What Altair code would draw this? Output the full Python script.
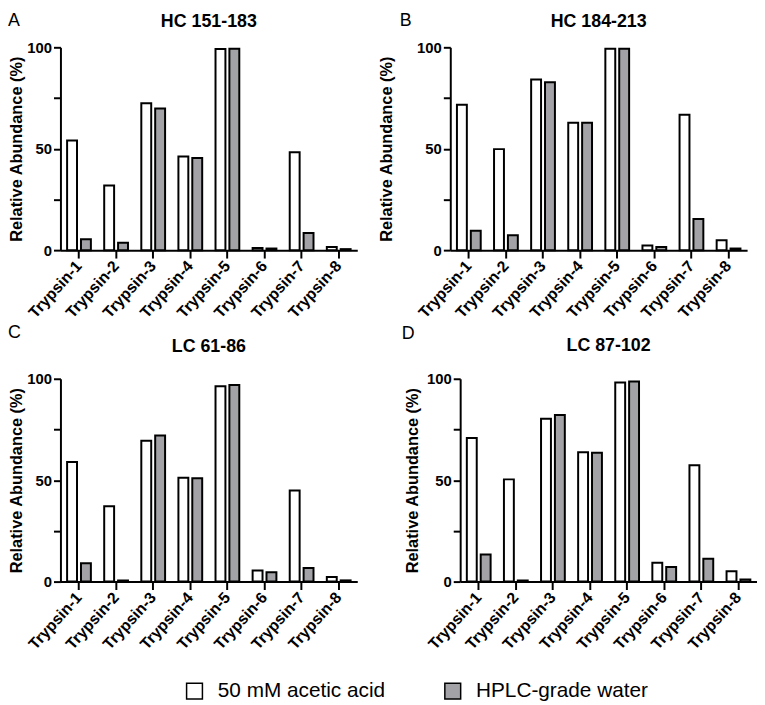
import altair as alt
import pandas as pd

FONT = "Liberation Sans"

categories = ["Trypsin-1", "Trypsin-2", "Trypsin-3", "Trypsin-4",
              "Trypsin-5", "Trypsin-6", "Trypsin-7", "Trypsin-8"]
conditions = ["50 mM acetic acid", "HPLC-grade water"]
panel_titles = ["HC 151-183", "HC 184-213", "LC 61-86", "LC 87-102"]
panel_letters = ["A", "B", "C", "D"]

hc151_acetic = [54.0, 31.9, 72.4, 46.2, 99.2, 1.1, 48.3, 1.6]
hc151_water = [5.4, 3.7, 69.8, 45.4, 99.3, 0.8, 8.5, 0.5]
hc184_acetic = [71.7, 49.8, 84.1, 62.8, 99.3, 2.3, 66.7, 4.9]
hc184_water = [9.6, 7.3, 82.8, 62.8, 99.3, 1.6, 15.3, 0.8]
lc61_acetic = [59.0, 37.1, 69.4, 51.2, 96.3, 5.5, 44.9, 2.3]
lc61_water = [9.1, 0.6, 72.0, 50.9, 96.9, 4.6, 6.7, 0.6]
lc87_acetic = [70.8, 50.4, 80.3, 63.8, 98.2, 9.3, 57.4, 5.1]
lc87_water = [13.4, 0.6, 82.1, 63.5, 98.7, 7.2, 11.3, 1.1]

legend = alt.Legend(
    title=None, orient="none", legendX=125, legendY=640, direction="horizontal",
    symbolType="square", symbolSize=256, symbolStrokeColor="black",
    symbolStrokeWidth=1.5, labelFontSize=21, labelFont=FONT, labelColor="black",
    columnPadding=56, labelOffset=13, labelLimit=400,
)


def panel(title, letter, acetic, water, title_pad, letter_dx, letter_dy, title_dy):
    df = pd.DataFrame({
        "cat": categories * 2,
        "cond": [conditions[0]] * len(categories) + [conditions[1]] * len(categories),
        "value": acetic + water,
    })
    bars = alt.Chart(df).mark_bar(stroke="black", strokeWidth=2).encode(
        x=alt.X("cat:N", sort=categories, title=None,
                scale=alt.Scale(paddingInner=0, paddingOuter=0),
                axis=alt.Axis(labelAngle=-48, labelAlign="right", labelBaseline="middle",
                              labelFont=FONT, labelFontSize=16, labelFontWeight="bold",
                              labelColor="black", tickSize=8, tickWidth=2, tickColor="black",
                              domainColor="black", domainWidth=2, labelPadding=5)),
        xOffset=alt.XOffset("cond:N", sort=conditions,
                            scale=alt.Scale(paddingInner=0.286, paddingOuter=0.48)),
        y=alt.Y("value:Q", scale=alt.Scale(domain=[0, 100]),
                title="Relative Abundance (%)",
                axis=alt.Axis(values=[0, 25, 50, 75, 100],
                              labelExpr="datum.value % 50 == 0 ? datum.label : ''",
                              labelFont=FONT, labelFontSize=15, labelFontWeight="bold",
                              labelColor="black", tickSize=7, tickWidth=2, tickColor="black",
                              domainColor="black", domainWidth=2, labelPadding=2,
                              titleFont=FONT, titleFontSize=16.5, titleFontWeight="bold",
                              titleColor="black", titlePadding=title_pad)),
        fill=alt.Fill("cond:N", sort=conditions,
                      scale=alt.Scale(domain=conditions, range=["white", "#a3a3a7"]),
                      legend=legend),
    )
    lab = alt.Chart(pd.DataFrame({"t": [letter]})).mark_text(
        fontSize=18, font=FONT, align="left", baseline="middle", color="black"
    ).encode(text="t:N", x=alt.value(letter_dx), y=alt.value(letter_dy))
    ttl = alt.Chart(pd.DataFrame({"t": [title]})).mark_text(
        fontSize=18, font=FONT, fontWeight="bold", align="center", baseline="middle",
        color="black"
    ).encode(text="t:N", x=alt.value(150), y=alt.value(title_dy))
    return alt.layer(bars, lab, ttl).properties(width=300, height=205)


pA = panel(panel_titles[0], panel_letters[0], hc151_acetic, hc151_water, 2, -53, -27, -26)
pB = panel(panel_titles[1], panel_letters[1], hc184_acetic, hc184_water, 22, -51, -27, -26)
pC = panel(panel_titles[2], panel_letters[2], lc61_acetic, lc61_water, 2, -53, -46, -32)
pD = panel(panel_titles[3], panel_letters[3], lc87_acetic, lc87_water, 6, -59, -45, -33)

row1 = alt.hconcat(pA, pB, spacing=21)
row2 = alt.hconcat(pC, pD, spacing=45)

chart = alt.vconcat(row1, row2, spacing=3).properties(padding=0).configure_view(
    stroke=None
).configure_axis(grid=False)

chart.save("out.html", embed_options={"renderer": "svg", "actions": False})
